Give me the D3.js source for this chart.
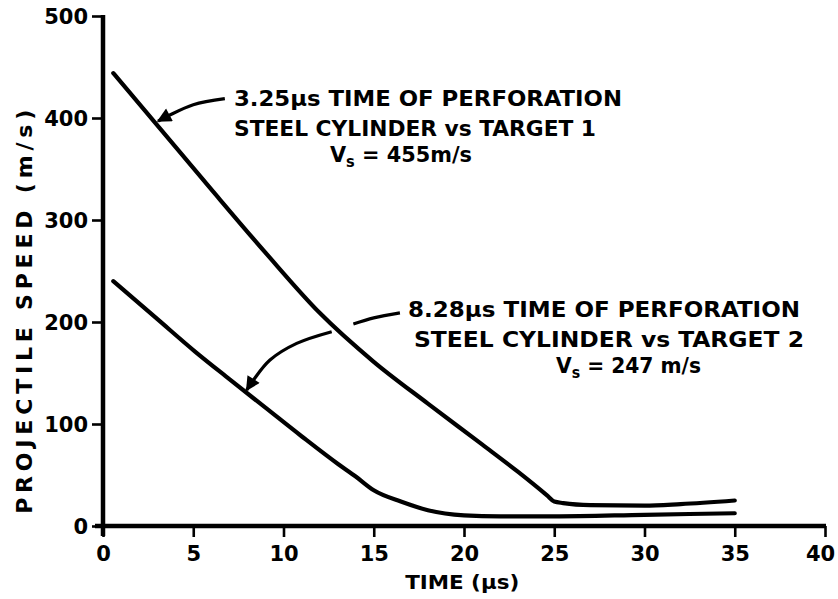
<!DOCTYPE html>
<html>
<head>
<meta charset="utf-8">
<script src="https://cdn.jsdelivr.net/npm/d3@7"></script>
<style>
  html, body { margin: 0; padding: 0; background: #fff; }
  svg { display: block; }
  text { font-family: "DejaVu Sans Condensed", "DejaVu Sans", sans-serif; font-weight: bold; fill: #000; }
</style>
</head>
<body>
<svg id="chart" width="838" height="599"></svg>
<script>
// Projectile speed vs time for a steel cylinder perforating two targets
const timeTicks = [0, 5, 10, 15, 20, 25, 30, 35, 40];
const speedTicks = [0, 100, 200, 300, 400, 500];

// Target 1 (upper curve)
const target1Time  = [0.57, 3, 6, 9, 12, 15, 18, 21, 23, 24.6, 25, 25.5, 27, 30, 32, 35];
const target1Speed = [444, 393, 330, 268, 209, 161, 120, 80, 53, 30, 24, 22.5, 20.5, 20, 21.5, 25];

// Target 2 (lower curve)
const target2Time  = [0.57, 3, 5.1, 7, 9, 11, 13, 14, 15, 16.5, 18, 20, 22, 25, 30, 35];
const target2Speed = [240, 203, 171, 144, 116, 88, 61, 48.5, 35, 24, 15.5, 10.5, 9.5, 9.5, 11, 12.5];

const svg = d3.select("#chart");
const x = d3.scaleLinear().domain([0, 40]).range([103, 825]);
const y = d3.scaleLinear().domain([0, 500]).range([526, 16]);

// Axes
const xAxis = d3.axisBottom(x).tickValues(timeTicks).tickSize(11).tickPadding(9).tickFormat(d3.format("d"));
const yAxis = d3.axisLeft(y).tickValues(speedTicks).tickSize(11).tickPadding(4).tickFormat(d3.format("d"));

const gx = svg.append("g").attr("transform", `translate(0,${y(0)})`).call(xAxis);
const gy = svg.append("g").attr("transform", `translate(${x(0)},0)`).call(yAxis);

[gx, gy].forEach(g => {
  g.select(".domain").remove();
  g.selectAll(".tick line").attr("stroke", "#000").attr("stroke-width", 2.6);
  g.selectAll(".tick text").attr("font-size", 21).attr("fill", "#000")
    .style("font-family", "\"DejaVu Sans\", sans-serif").style("font-weight", "bold");
});
gy.selectAll(".tick text").attr("dy", "0.36em");
// keep the last time label inside the frame
gx.selectAll(".tick text").filter(d => d === 40).attr("dx", -5);

// Axis lines
svg.append("line")
  .attr("x1", x(0) - 8).attr("x2", x(40) + 1)
  .attr("y1", y(0)).attr("y2", y(0))
  .attr("stroke", "#000").attr("stroke-width", 4.5);
svg.append("line")
  .attr("x1", x(0)).attr("x2", x(0))
  .attr("y1", y(500) - 1).attr("y2", y(0) + 10)
  .attr("stroke", "#000").attr("stroke-width", 4.5);

// Axis titles
svg.append("text")
  .attr("x", x(19.9)).attr("y", 589)
  .attr("text-anchor", "middle").attr("font-size", 20)
  .attr("textLength", 114).attr("lengthAdjust", "spacingAndGlyphs")
  .text("TIME (μs)");

svg.append("text")
  .attr("transform", `translate(32,${y(210)}) rotate(-90)`)
  .attr("text-anchor", "middle").attr("font-size", 22)
  .style("font-family", "\"DejaVu Sans\", sans-serif")
  .attr("textLength", 404).attr("lengthAdjust", "spacing")
  .text("PROJECTILE  SPEED  (m/s)");

// Curves
const line = d3.line().x(d => x(d[0])).y(d => y(d[1])).curve(d3.curveMonotoneX);
const series = [
  d3.zip(target1Time, target1Speed),
  d3.zip(target2Time, target2Speed)
];
svg.selectAll("path.curve").data(series).join("path")
  .attr("class", "curve")
  .attr("d", line)
  .attr("fill", "none").attr("stroke", "#000")
  .attr("stroke-width", 4.2).attr("stroke-linecap", "round").attr("stroke-linejoin", "round");

// Annotations
function label(lines, fontSize) {
  lines.forEach(l => {
    const t = svg.append("text")
      .attr("x", l.x).attr("y", l.y)
      .attr("font-size", fontSize);
    if (l.width) t.attr("textLength", l.width).attr("lengthAdjust", "spacingAndGlyphs");
    if (l.sub) {
      t.append("tspan").text("V");
      t.append("tspan").attr("font-size", fontSize * 0.7).attr("dy", 5).text("s");
      t.append("tspan").attr("dy", -5).text(l.text);
    } else {
      t.text(l.text);
    }
  });
}

label([
  { x: 234, y: 106, width: 388, text: "3.25μs  TIME OF PERFORATION" },
  { x: 234, y: 136, width: 362, text: "STEEL CYLINDER vs TARGET 1" },
  { x: 330, y: 162, width: 142, sub: true, text: " = 455m/s" }
], 22);

label([
  { x: 408, y: 317, width: 392, text: "8.28μs  TIME OF PERFORATION" },
  { x: 414, y: 347, width: 390, text: "STEEL CYLINDER vs TARGET 2" },
  { x: 556, y: 373, width: 145, sub: true, text: " = 247 m/s" }
], 22);

// Leader arrows
svg.append("defs").append("marker")
  .attr("id", "head").attr("viewBox", "0 0 10 10")
  .attr("refX", 9).attr("refY", 5)
  .attr("markerWidth", 5).attr("markerHeight", 4.5)
  .attr("orient", "auto-start-reverse")
  .append("path").attr("d", "M0,0 L10,5 L0,10 Z").attr("fill", "#000");

const leader = d3.line().x(d => x(d[0])).y(d => y(d[1])).curve(d3.curveCatmullRom);
svg.append("path")
  .attr("d", leader([[6.75, 419], [5.0, 413], [3.6, 402], [3.05, 397]]))
  .attr("fill", "none").attr("stroke", "#000").attr("stroke-width", 3.2)
  .attr("marker-end", "url(#head)");

svg.append("path")
  .attr("d", leader([[16.45, 209], [15.0, 204], [13.87, 198]]))
  .attr("fill", "none").attr("stroke", "#000").attr("stroke-width", 3.2);
svg.append("path")
  .attr("d", leader([[12.67, 190.5], [10.73, 179], [9.25, 162.7], [8.33, 143], [7.96, 133.3]]))
  .attr("fill", "none").attr("stroke", "#000").attr("stroke-width", 3.2)
  .attr("marker-end", "url(#head)");
</script>
</body>
</html>
